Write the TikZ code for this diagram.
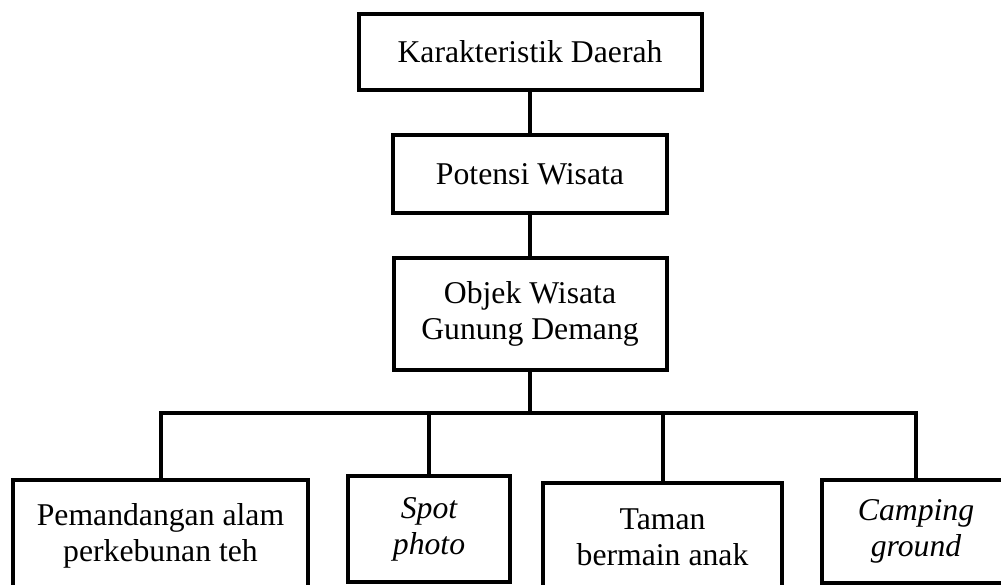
\documentclass[tikz,border=0pt]{standalone}
\usepackage{fontspec}
\setmainfont{Liberation Serif}
\usepackage{tikz}
\usetikzlibrary{positioning,calc}

\begin{document}
\begin{tikzpicture}[
  every node/.style={font=\fontsize{31.7}{36}\selectfont, inner sep=0pt, align=center},
  levelbox/.style={draw, line width=4pt},
  leafbox/.style={draw, line width=4pt},
  link/.style={line width=4pt},
  x=1pt, y=-1pt
]
  \useasboundingbox (0,0) rectangle (1001,585);
  \clip (0,0) rectangle (1001,585);

  % upper chain
  \node[levelbox, minimum width=343, minimum height=76]  (karakteristik) at (530, 52)  {Karakteristik Daerah};
  \node[levelbox, minimum width=274, minimum height=78]  (potensi)       at (530, 174) {Potensi Wisata};
  \node[levelbox, minimum width=273, minimum height=112] (objek)         at (530, 314) {Objek Wisata\\Gunung Demang};

  % objects
  \node[leafbox, minimum width=295, minimum height=112] (pemandangan) at (160.5, 536) {Pemandangan alam\\perkebunan teh};
  \node[leafbox, minimum width=162, minimum height=106] (spot)        at (429, 529)   {\itshape Spot\\\itshape photo};
  \node[leafbox, minimum width=239, minimum height=108] (taman)       at (662.5, 537) {Taman\\bermain anak};
  \node[leafbox, minimum width=188, minimum height=103] (camping)     at (916, 531.5) {\itshape Camping\\\itshape ground};

  \coordinate (bus) at (530, 413);

  \draw[link] (karakteristik) -- (potensi);
  \draw[link] (potensi) -- (objek);
  \draw[link] (objek) -- (bus);
  \draw[link] (pemandangan.north) |- (bus) -| (camping.north);
  \draw[link] (spot.north) -- (spot.north |- bus);
  \draw[link] (taman.north) -- (taman.north |- bus);
\end{tikzpicture}
\end{document}
